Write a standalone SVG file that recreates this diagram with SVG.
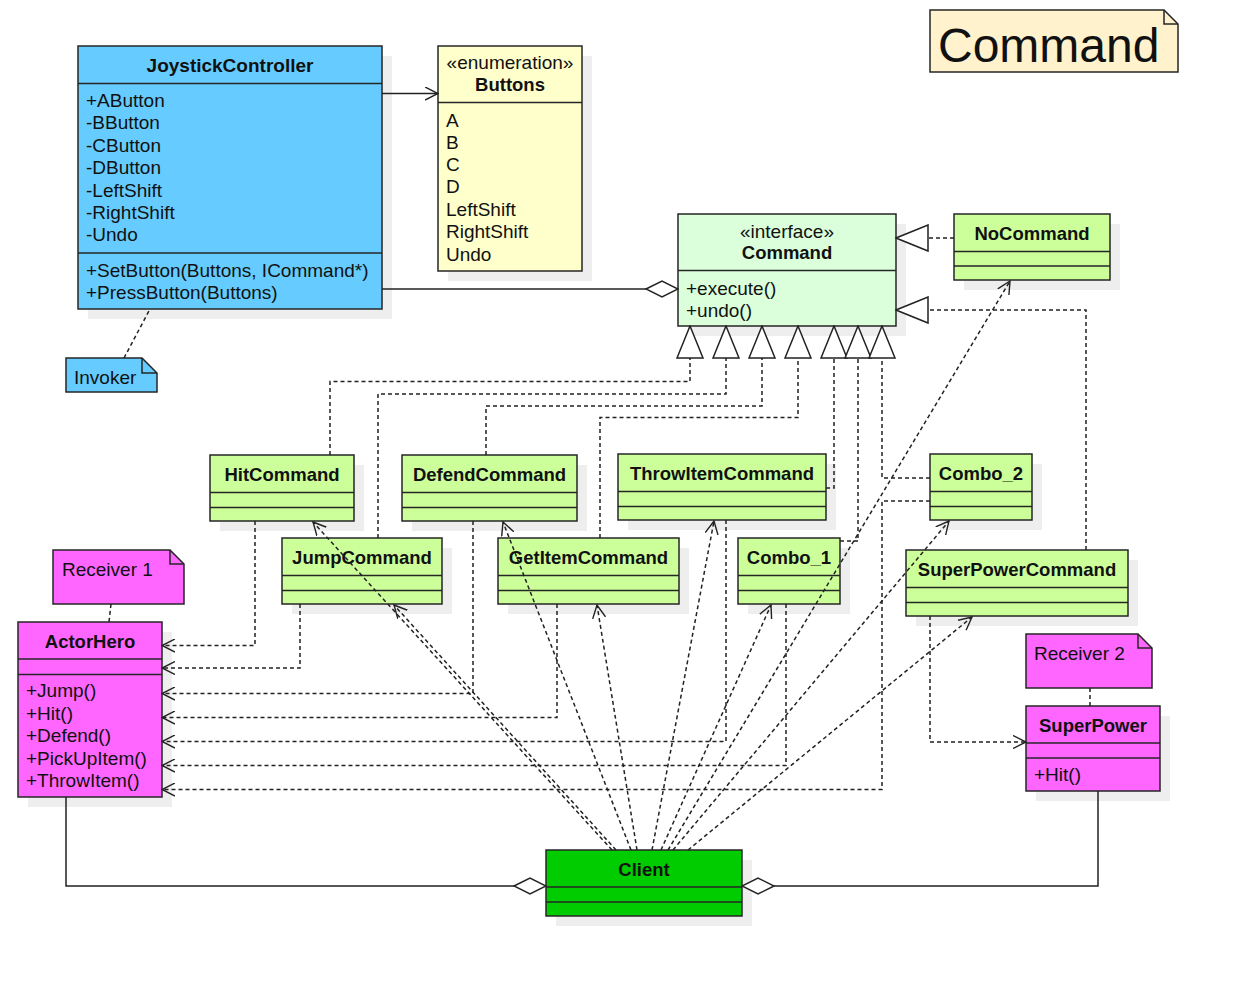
<svg xmlns="http://www.w3.org/2000/svg" width="1236" height="981" viewBox="0 0 1236 981">
<style>
.bx{stroke:#262626;stroke-width:1.5}
.ln{fill:none;stroke:#262626;stroke-width:1.5}
.sh{fill:#eeeeee}
.t{font-family:"Liberation Sans",Arial,Helvetica,sans-serif;font-size:19px;fill:#111}
.b{font-weight:bold;font-size:18.5px}
.c{text-anchor:middle}
.dep{fill:none;stroke:#222;stroke-width:1.5;stroke-dasharray:4 3}
.sol{fill:none;stroke:#222;stroke-width:1.5}
.blue{fill:#66ccff}
.yel{fill:#ffffcc}
.lg{fill:#dbffdb}
.gr{fill:#ccff99}
.pk{fill:#ff66ff}
.dg{fill:#00cc00}
.cr{fill:#fff2cc}
</style>
<defs>
<marker id="open" markerUnits="userSpaceOnUse" viewBox="0 0 14 14" refX="13" refY="7" markerWidth="14" markerHeight="14" orient="auto">
<path d="M0,0.5 L13,7 L0,13.5" fill="none" stroke="#222" stroke-width="1.4"/>
</marker>
<marker id="tri" markerUnits="userSpaceOnUse" viewBox="-1 -1 34 28" refX="32" refY="13" markerWidth="34" markerHeight="28" orient="auto">
<path d="M0,0 L32,13 L0,26 Z" fill="#fff" stroke="#222" stroke-width="1.5"/>
</marker>
<marker id="dia" markerUnits="userSpaceOnUse" viewBox="-1 -1 34 18" refX="32" refY="8" markerWidth="34" markerHeight="18" orient="auto">
<path d="M0,8 L16,0 L32,8 L16,16 Z" fill="#fff" stroke="#222" stroke-width="1.4"/>
</marker>
</defs>
<rect width="1236" height="981" fill="#fff"/>

<!-- Command title note -->
<g id="note-command">
<path class="bx cr" d="M930,10 H1164 L1178,24 V72 H930 Z"/>
<path class="ln" d="M1164,10 V24 H1178"/>
<text class="t" x="938" y="62" style="font-size:48px">Command</text>
</g>

<!-- JoystickController -->
<g id="JoystickController">
<rect class="sh" x="88" y="56" width="304" height="263"/>
<rect class="bx blue" x="78" y="46" width="304" height="263"/>
<path class="ln" d="M78,83.5 H382 M78,253 H382"/>
<text class="t b c" x="230" y="72" style="font-size:19px">JoystickController</text>
<text class="t" x="86" y="106.5">+AButton</text>
<text class="t" x="86" y="129">-BButton</text>
<text class="t" x="86" y="151.5">-CButton</text>
<text class="t" x="86" y="174">-DButton</text>
<text class="t" x="86" y="196.5">-LeftShift</text>
<text class="t" x="86" y="219">-RightShift</text>
<text class="t" x="86" y="241">-Undo</text>
<text class="t" x="86" y="276.5">+SetButton(Buttons, ICommand*)</text>
<text class="t" x="86" y="298.5">+PressButton(Buttons)</text>
</g>

<!-- Invoker note -->
<g id="note-invoker">
<path class="bx blue" d="M66,358 H142 L157,373 V392 H66 Z"/>
<path class="ln" d="M142,358 V373 H157"/>
<text class="t" x="74" y="384">Invoker</text>
</g>

<!-- Buttons -->
<g id="Buttons">
<rect class="sh" x="448" y="56" width="144" height="225"/>
<rect class="bx yel" x="438" y="46" width="144" height="225"/>
<path class="ln" d="M438,102.5 H582"/>
<text class="t c" x="510" y="69">«enumeration»</text>
<text class="t b c" x="510" y="91">Buttons</text>
<text class="t" x="446" y="126.5">A</text>
<text class="t" x="446" y="149">B</text>
<text class="t" x="446" y="171">C</text>
<text class="t" x="446" y="193">D</text>
<text class="t" x="446" y="216">LeftShift</text>
<text class="t" x="446" y="238">RightShift</text>
<text class="t" x="446" y="260.5">Undo</text>
</g>

<!-- Command interface -->
<g id="Command">
<rect class="sh" x="688" y="224" width="218" height="112"/>
<rect class="bx lg" x="678" y="214" width="218" height="112"/>
<path class="ln" d="M678,270.5 H896"/>
<text class="t c" x="787" y="238">«interface»</text>
<text class="t b c" x="787" y="259">Command</text>
<text class="t" x="686" y="294.5">+execute()</text>
<text class="t" x="686" y="316.5">+undo()</text>
</g>

<!-- NoCommand -->
<g id="NoCommand">
<rect class="sh" x="964" y="224" width="156" height="66"/>
<rect class="bx gr" x="954" y="214" width="156" height="66"/>
<path class="ln" d="M954,251.5 H1110 M954,266 H1110"/>
<text class="t b c" x="1032" y="240">NoCommand</text>
</g>

<!-- HitCommand -->
<g id="HitCommand">
<rect class="sh" x="220" y="465" width="144" height="66"/>
<rect class="bx gr" x="210" y="455" width="144" height="66"/>
<path class="ln" d="M210,492.5 H354 M210,507.5 H354"/>
<text class="t b c" x="282" y="481">HitCommand</text>
</g>

<!-- DefendCommand -->
<g id="DefendCommand">
<rect class="sh" x="412" y="465" width="175" height="66"/>
<rect class="bx gr" x="402" y="455" width="175" height="66"/>
<path class="ln" d="M402,492.5 H577 M402,507.5 H577"/>
<text class="t b c" x="489.5" y="481">DefendCommand</text>
</g>

<!-- ThrowItemCommand -->
<g id="ThrowItemCommand">
<rect class="sh" x="628" y="464" width="208" height="66"/>
<rect class="bx gr" x="618" y="454" width="208" height="66"/>
<path class="ln" d="M618,491.5 H826 M618,506.5 H826"/>
<text class="t b c" x="722" y="480">ThrowItemCommand</text>
</g>

<!-- Combo_2 -->
<g id="Combo_2">
<rect class="sh" x="940" y="464" width="102" height="66"/>
<rect class="bx gr" x="930" y="454" width="102" height="66"/>
<path class="ln" d="M930,491.5 H1032 M930,506.5 H1032"/>
<text class="t b c" x="981" y="480">Combo_2</text>
</g>

<!-- JumpCommand -->
<g id="JumpCommand">
<rect class="sh" x="292" y="548" width="160" height="66"/>
<rect class="bx gr" x="282" y="538" width="160" height="66"/>
<path class="ln" d="M282,575.5 H442 M282,590.5 H442"/>
<text class="t b c" x="362" y="564">JumpCommand</text>
</g>

<!-- GetItemCommand -->
<g id="GetItemCommand">
<rect class="sh" x="508" y="548" width="181" height="66"/>
<rect class="bx gr" x="498" y="538" width="181" height="66"/>
<path class="ln" d="M498,575.5 H679 M498,590.5 H679"/>
<text class="t b c" x="588.5" y="564">GetItemCommand</text>
</g>

<!-- Combo_1 -->
<g id="Combo_1">
<rect class="sh" x="748" y="548" width="102" height="66"/>
<rect class="bx gr" x="738" y="538" width="102" height="66"/>
<path class="ln" d="M738,575.5 H840 M738,590.5 H840"/>
<text class="t b c" x="789" y="564">Combo_1</text>
</g>

<!-- SuperPowerCommand -->
<g id="SuperPowerCommand">
<rect class="sh" x="916" y="560" width="222" height="66"/>
<rect class="bx gr" x="906" y="550" width="222" height="66"/>
<path class="ln" d="M906,587.5 H1128 M906,602.5 H1128"/>
<text class="t b c" x="1017" y="576">SuperPowerCommand</text>
</g>

<!-- Receiver 1 note -->
<g id="note-receiver1">
<path class="bx pk" d="M53,550 H170 L184,564 V604 H53 Z"/>
<path class="ln" d="M170,550 V564 H184"/>
<text class="t" x="62" y="576">Receiver 1</text>
</g>

<!-- ActorHero -->
<g id="ActorHero">
<rect class="sh" x="28" y="632" width="144" height="175"/>
<rect class="bx pk" x="18" y="622" width="144" height="175"/>
<path class="ln" d="M18,659 H162 M18,674.5 H162"/>
<text class="t b c" x="90" y="648">ActorHero</text>
<text class="t" x="26" y="697">+Jump()</text>
<text class="t" x="26" y="719.5">+Hit()</text>
<text class="t" x="26" y="742">+Defend()</text>
<text class="t" x="26" y="765">+PickUpItem()</text>
<text class="t" x="26" y="787">+ThrowItem()</text>
</g>

<!-- Receiver 2 note -->
<g id="note-receiver2">
<path class="bx pk" d="M1026,634 H1138 L1152,648 V688 H1026 Z"/>
<path class="ln" d="M1138,634 V648 H1152"/>
<text class="t" x="1034" y="660">Receiver 2</text>
</g>

<!-- SuperPower -->
<g id="SuperPower">
<rect class="sh" x="1036" y="716" width="134" height="85"/>
<rect class="bx pk" x="1026" y="706" width="134" height="85"/>
<path class="ln" d="M1026,743 H1160 M1026,758 H1160"/>
<text class="t b c" x="1093" y="732">SuperPower</text>
<text class="t" x="1034" y="781">+Hit()</text>
</g>

<!-- Client -->
<g id="Client">
<rect class="sh" x="556" y="860" width="196" height="66"/>
<rect class="bx dg" x="546" y="850" width="196" height="66"/>
<path class="ln" d="M546,887 H742 M546,902 H742"/>
<text class="t b c" x="644" y="876">Client</text>
</g>

<!-- Connectors -->
<g id="connectors">
<path class="sol" d="M382,93.5 H438" marker-end="url(#open)"/>
<path class="sol" d="M382,289 H678" marker-end="url(#dia)"/>
<path class="dep" d="M124,358 L150,309"/>
<path class="dep" d="M111,604 L109,622"/>
<path class="dep" d="M1090,688 V706"/>
<path class="dep" d="M330,455 V381.5 H690 V326" marker-end="url(#tri)"/>
<path class="dep" d="M378,538 V394 H726 V326" marker-end="url(#tri)"/>
<path class="dep" d="M486,455 V406 H762 V326" marker-end="url(#tri)"/>
<path class="dep" d="M600,538 V417.5 H798 V326" marker-end="url(#tri)"/>
<path class="dep" d="M826,488 H834 V326" marker-end="url(#tri)"/>
<path class="dep" d="M840,541 H858 V326" marker-end="url(#tri)"/>
<path class="dep" d="M930,478 H882 V326" marker-end="url(#tri)"/>
<path class="dep" d="M954,238 H896" marker-end="url(#tri)"/>
<path class="dep" d="M1086,550 V310 H896" marker-end="url(#tri)"/>
<path class="dep" d="M255,521 V645.5 H162" marker-end="url(#open)"/>
<path class="dep" d="M300,604 V668 H162" marker-end="url(#open)"/>
<path class="dep" d="M473,521 V693.5 H162" marker-end="url(#open)"/>
<path class="dep" d="M557,604 V717.5 H162" marker-end="url(#open)"/>
<path class="dep" d="M726,520 V741.5 H162" marker-end="url(#open)"/>
<path class="dep" d="M786,604 V765.5 H162" marker-end="url(#open)"/>
<path class="dep" d="M930,501 H882 V789.5 H162" marker-end="url(#open)"/>
<path class="dep" d="M930,616 V742 H1026" marker-end="url(#open)"/>
<path class="dep" d="M612,850 L313,522" marker-end="url(#open)"/>
<path class="dep" d="M616,850 L394,605" marker-end="url(#open)"/>
<path class="dep" d="M631,850 L503,522" marker-end="url(#open)"/>
<path class="dep" d="M637,850 L597,605" marker-end="url(#open)"/>
<path class="dep" d="M652,850 L714,521" marker-end="url(#open)"/>
<path class="dep" d="M661,850 L771,605" marker-end="url(#open)"/>
<path class="dep" d="M668,850 L1010,281" marker-end="url(#open)"/>
<path class="dep" d="M673,850 L949,521" marker-end="url(#open)"/>
<path class="dep" d="M688,850 L972,617" marker-end="url(#open)"/>
<path class="sol" d="M66,797 V886 H546" marker-end="url(#dia)"/>
<path class="sol" d="M1098,791 V886 H742" marker-end="url(#dia)"/>
</g>
</svg>
